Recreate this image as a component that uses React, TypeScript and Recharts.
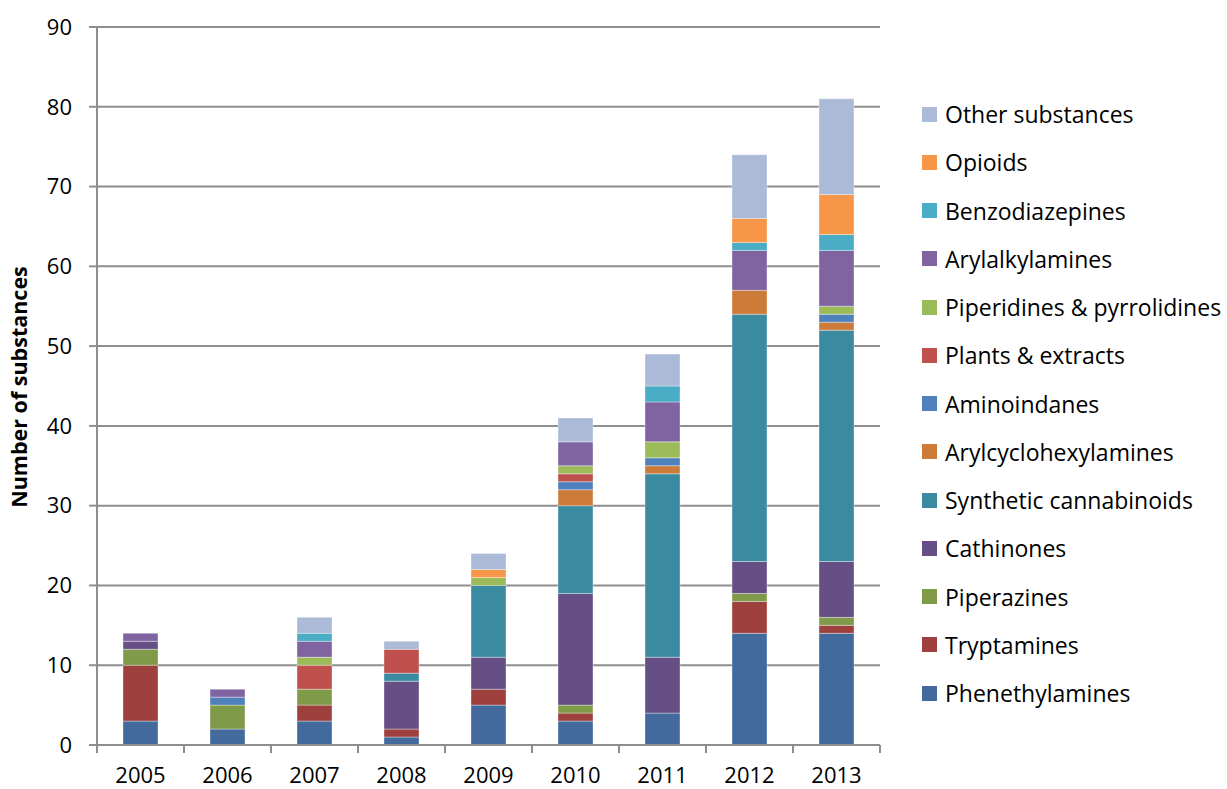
import React from "react"
import { BarChart, Bar, XAxis, YAxis, CartesianGrid, Legend } from "recharts"

const YEARS = ["2005", "2006", "2007", "2008", "2009", "2010", "2011", "2012", "2013"]

// series, bottom of stack first
const PHENETHYLAMINES = [3, 2, 3, 1, 5, 3, 4, 14, 14]
const TRYPTAMINES = [7, 0, 2, 1, 2, 1, 0, 4, 1]
const PIPERAZINES = [2, 3, 2, 0, 0, 1, 0, 1, 1]
const CATHINONES = [1, 0, 0, 6, 4, 14, 7, 4, 7]
const SYNTHETIC_CANNABINOIDS = [0, 0, 0, 1, 9, 11, 23, 31, 29]
const ARYLCYCLOHEXYLAMINES = [0, 0, 0, 0, 0, 2, 1, 3, 1]
const AMINOINDANES = [0, 1, 0, 0, 0, 1, 1, 0, 1]
const PLANTS_EXTRACTS = [0, 0, 3, 3, 0, 1, 0, 0, 0]
const PIPERIDINES = [0, 0, 1, 0, 1, 1, 2, 0, 1]
const ARYLALKYLAMINES = [1, 1, 2, 0, 0, 3, 5, 5, 7]
const BENZODIAZEPINES = [0, 0, 1, 0, 0, 0, 2, 1, 2]
const OPIOIDS = [0, 0, 0, 0, 1, 0, 0, 3, 5]
const OTHER = [0, 0, 2, 1, 2, 3, 4, 8, 12]

const Y_TICKS = [0, 10, 20, 30, 40, 50, 60, 70, 80, 90]

const SERIES = [
    { key: "Phenethylamines", values: PHENETHYLAMINES, color: "#426A9C" },
    { key: "Tryptamines", values: TRYPTAMINES, color: "#9E413E" },
    { key: "Piperazines", values: PIPERAZINES, color: "#7F9A48" },
    { key: "Cathinones", values: CATHINONES, color: "#664F84" },
    { key: "Synthetic cannabinoids", values: SYNTHETIC_CANNABINOIDS, color: "#3A8BA2" },
    { key: "Arylcyclohexylamines", values: ARYLCYCLOHEXYLAMINES, color: "#CC7B38" },
    { key: "Aminoindanes", values: AMINOINDANES, color: "#4F81BD" },
    { key: "Plants & extracts", values: PLANTS_EXTRACTS, color: "#C0504D" },
    { key: "Piperidines & pyrrolidines", values: PIPERIDINES, color: "#9BBB59" },
    { key: "Arylalkylamines", values: ARYLALKYLAMINES, color: "#8064A2" },
    { key: "Benzodiazepines", values: BENZODIAZEPINES, color: "#4BACC6" },
    { key: "Opioids", values: OPIOIDS, color: "#F79646" },
    { key: "Other substances", values: OTHER, color: "#AABAD7" },
]

const data = YEARS.map((year, i) => {
    const row: Record<string, string | number> = { year }
    SERIES.forEach((s) => {
        row[s.key] = s.values[i]
    })
    return row
})

const FONT = "'Open Sans', sans-serif"
const GRID = "#8E8E8E"
const PLOT_LEFT = 97
const PLOT_RIGHT = 880
const BAND = (PLOT_RIGHT - PLOT_LEFT) / YEARS.length

function YearTick(props: any) {
    const { x, y, payload, index } = props
    const half = BAND / 2
    return (
        <g>
            <line x1={x - half} x2={x - half} y1={y} y2={y + 8} stroke={GRID} strokeWidth={2} />
            {index === YEARS.length - 1 && (
                <line x1={x + half} x2={x + half} y1={y} y2={y + 8} stroke={GRID} strokeWidth={2} />
            )}
            <text x={x} y={y + 38} textAnchor="middle" fill="#000" fontSize={22} fontFamily={FONT}>
                {payload.value}
            </text>
        </g>
    )
}

function YTitle() {
    return (
        <text
            x={27}
            y={387}
            transform="rotate(-90 27 387)"
            textAnchor="middle"
            fontSize={21.5}
            fontWeight="bold"
            fontFamily={FONT}
            fill="#000"
        >
            Number of substances
        </text>
    )
}

function LegendBox() {
    const items = [...SERIES].reverse()
    return (
        <div style={{ fontFamily: FONT, fontSize: 23, color: "#000" }}>
            {items.map((s) => (
                <div key={s.key} style={{ height: 48.25, display: "flex", alignItems: "center", whiteSpace: "nowrap" }}>
                    <span style={{ width: 15, height: 15, background: s.color, display: "inline-block", marginRight: 8 }} />
                    <span>{s.key}</span>
                </div>
            ))}
        </div>
    )
}

export default function App() {
    return (
        <div style={{ position: "absolute", left: 0, top: 0, width: 1227, height: 789, background: "#fff" }}>
            <BarChart
                width={1227}
                height={789}
                data={data}
                margin={{ top: 27, right: 347, bottom: 0, left: 0 }}
                barSize={35}
            >
                <CartesianGrid vertical={false} stroke={GRID} strokeWidth={2} />
                <XAxis
                    dataKey="year"
                    height={44}
                    axisLine={{ stroke: GRID, strokeWidth: 2 }}
                    tickLine={false}
                    tickSize={0}
                    tickMargin={0}
                    interval={0}
                    tick={<YearTick />}
                />
                <YAxis
                    width={97}
                    domain={[0, 90]}
                    ticks={Y_TICKS}
                    interval={0}
                    axisLine={{ stroke: GRID, strokeWidth: 2 }}
                    tickLine={{ stroke: GRID, strokeWidth: 2 }}
                    tickSize={8}
                    tickMargin={17}
                    tick={{ fill: "#000", fontSize: 22, fontFamily: FONT }}
                    label={{ content: () => <YTitle /> }}
                />
                <Legend
                    layout="horizontal"
                    align="center"
                    verticalAlign="middle"
                    wrapperStyle={{ left: 922, top: 90, width: 305 }}
                    content={() => <LegendBox />}
                />
                {SERIES.map((s) => (
                    <Bar
                        key={s.key}
                        dataKey={s.key}
                        stackId="a"
                        fill={s.color}
                        stroke="#ffffff"
                        strokeOpacity={0.35}
                        strokeWidth={1}
                        isAnimationActive={false}
                    />
                ))}
            </BarChart>
        </div>
    )
}
